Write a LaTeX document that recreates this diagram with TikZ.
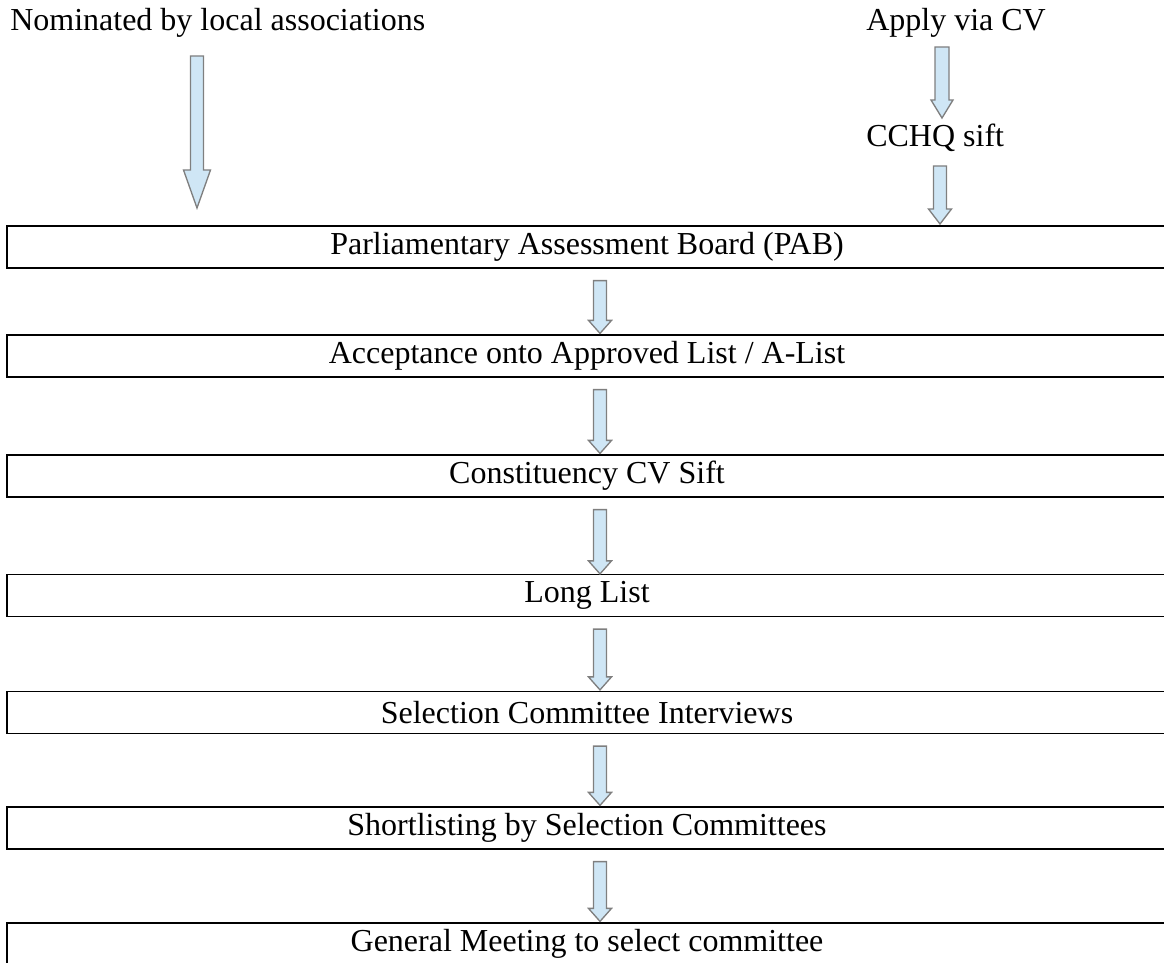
\documentclass[tikz,border=0pt]{standalone}
\usepackage{fontspec}
\setmainfont{Liberation Serif}
\usetikzlibrary{calc}
\definecolor{arrowfill}{HTML}{CFE6F5}
\definecolor{arrowline}{HTML}{7F7F7F}
\tikzset{
  lbl/.style={inner sep=0pt, font=\fontsize{24}{28}\selectfont},
  stagebox/.style={draw=black, line width=0.9pt, minimum width=870pt, minimum height=31.5pt, inner sep=0pt, font=\fontsize{24}{28}\selectfont},
  barrow/.style={fill=arrowfill, draw=arrowline, line width=1pt, line join=miter},
}
% from, to, shaft half width, head half width, head length (all in px units)
\newcommand{\blockarrow}[5]{%
  \filldraw[barrow] ($(#1)+(-#3,0)$) -- ($(#2)+(-#3,-#5)$) -- ($(#2)+(-#4,-#5)$) -- (#2)
    -- ($(#2)+(#4,-#5)$) -- ($(#2)+(#3,-#5)$) -- ($(#1)+(#3,0)$) -- cycle;}
\begin{document}
\begin{tikzpicture}[x=0.75pt,y=-0.75pt]
\useasboundingbox (0,0) rectangle (1164,963);

% top labels
\node[lbl, anchor=base west] (nom) at (10,31) {Nominated by local associations};
\node[lbl, anchor=base west] (apply) at (866,31) {Apply via CV};
\node[lbl, anchor=base west] (cchq) at (866,147) {CCHQ sift};

% stage boxes
\node[stagebox] (pab) at (587,247) {Parliamentary Assessment Board (PAB)};
\node[stagebox] (acc) at (587,356) {Acceptance onto Approved List / A-List};
\node[stagebox] (con) at (587,476) {Constituency CV Sift};
\node[stagebox] (long) at (587,595.5) {Long List};
\node[stagebox] (sel) at (587,712.5) {Selection Committee Interviews};
\node[stagebox] (short) at (587,828) {Shortlisting by Selection Committees};
\node[stagebox] (gen) at (587,944) {General Meeting to select committee};

% arrow end points
\coordinate (a1s) at (197,56);   \coordinate (a1e) at (197,208);
\coordinate (a2s) at (942,47);   \coordinate (a2e) at (942,118);
\coordinate (a3s) at (940,166);  \coordinate (a3e) at (940,224);

\blockarrow{a1s}{a1e}{6.5}{13.5}{38}
\blockarrow{a2s}{a2e}{7}{11}{18}
\blockarrow{a3s}{a3e}{6.5}{11.5}{15}

% arrows between stages
\coordinate (b1s) at ($(pab.south)+(13,12)$);   \coordinate (b1e) at ($(acc.north)+(13,-1)$);
\coordinate (b2s) at ($(acc.south)+(13,12)$);   \coordinate (b2e) at ($(con.north)+(13,-1)$);
\coordinate (b3s) at ($(con.south)+(13,12)$);   \coordinate (b3e) at ($(long.north)+(13,0)$);
\coordinate (b4s) at ($(long.south)+(13,12)$);  \coordinate (b4e) at ($(sel.north)+(13,-1)$);
\coordinate (b5s) at ($(sel.south)+(13,12)$);   \coordinate (b5e) at ($(short.north)+(13,-1)$);
\coordinate (b6s) at ($(short.south)+(13,12)$); \coordinate (b6e) at ($(gen.north)+(13,-1)$);

\foreach \i in {1,...,6}{\blockarrow{b\i s}{b\i e}{6.5}{11.5}{13}}
\end{tikzpicture}
\end{document}
